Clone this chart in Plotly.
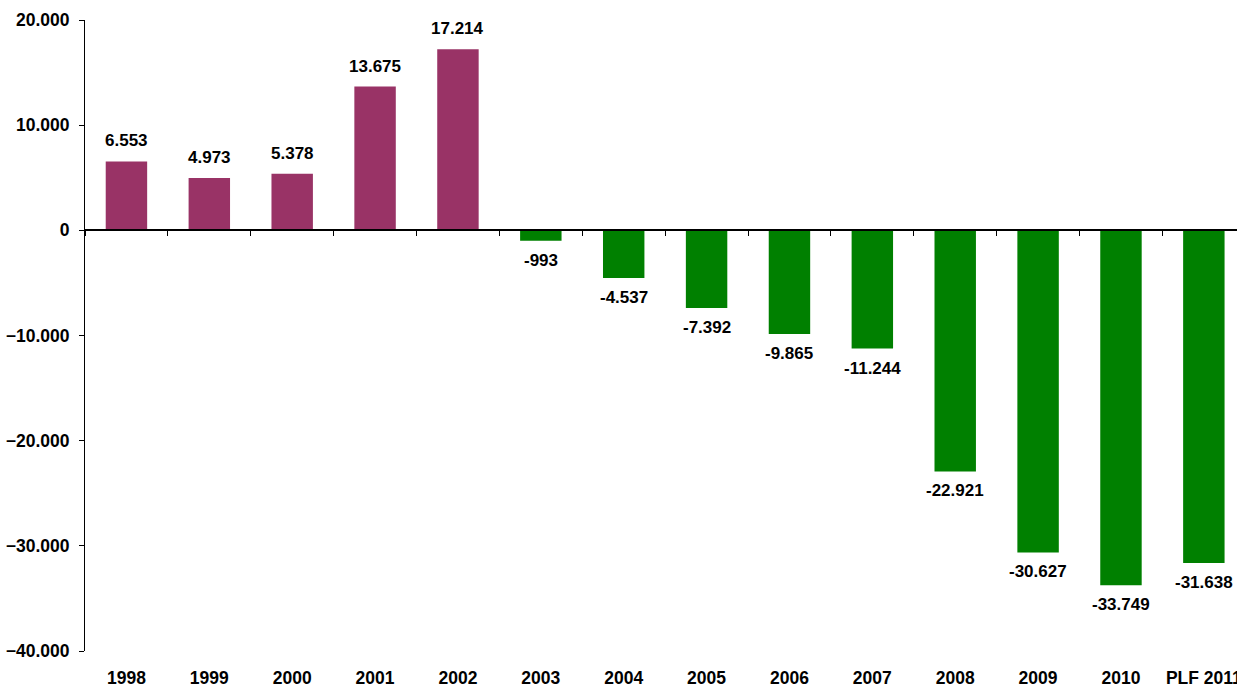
import plotly.graph_objects as go

categories = ["1998", "1999", "2000", "2001", "2002", "2003", "2004", "2005",
              "2006", "2007", "2008", "2009", "2010", "PLF 2011"]
values = [6553, 4973, 5378, 13675, 17214, -993, -4537, -7392, -9865, -11244,
          -22921, -30627, -33749, -31638]
y_ticks = [-40000, -30000, -20000, -10000, 0, 10000, 20000]

POS_COLOR = "#993366"
NEG_COLOR = "#008000"
FONT = "Liberation Sans, Arial, sans-serif"

colors = [POS_COLOR if v >= 0 else NEG_COLOR for v in values]

fig = go.Figure()
fig.add_trace(go.Bar(x=categories, y=values, marker=dict(color=colors, line=dict(width=0)),
                     width=0.5, showlegend=False, hoverinfo="skip"))

annotations = []
for i, v in enumerate(values):
    txt = f"{v:,}".replace(",", ".")
    annotations.append(dict(
        x=i, y=v, xref="x", yref="y", text=txt, showarrow=False,
        yanchor="bottom" if v >= 0 else "top",
        yshift=9 if v >= 0 else -8,
        font=dict(family=FONT, size=17, color="black", weight="bold")))

n = len(categories)
fig.update_layout(
    width=1237, height=685,
    margin=dict(l=85, r=0, t=20, b=34, autoexpand=False),
    plot_bgcolor="white", paper_bgcolor="white",
    separators=",.",
    annotations=annotations,
    hovermode=False,
    xaxis=dict(type="category", range=[-0.5, 13.4], showline=False, ticks="",
               showgrid=False, zeroline=False, automargin=False,
               tickfont=dict(family=FONT, size=17.5, color="black", weight="bold"),
               ticklabelstandoff=14),
    xaxis2=dict(type="linear", overlaying="x", anchor="free", position=2/3,
                range=[-0.5, 13.4], showline=True, linecolor="black", linewidth=1.5,
                ticks="outside", ticklen=5, tickcolor="black", tickwidth=1,
                tickvals=[i - 0.5 for i in range(n + 1)], showticklabels=False,
                showgrid=False, zeroline=False, automargin=False),
    yaxis=dict(range=[-40000, 20000], tickvals=y_ticks, tickformat=",d",
               showline=True, linecolor="black", linewidth=1,
               ticks="outside", ticklen=5, tickcolor="black",
               showgrid=False, zeroline=False, automargin=False,
               tickfont=dict(family=FONT, size=17.5, color="black", weight="bold"),
               ticklabelstandoff=6),
)
fig.add_trace(go.Scatter(x=[0], y=[0], xaxis="x2", yaxis="y", mode="markers",
                         marker=dict(opacity=0), showlegend=False, hoverinfo="skip"))

fig.write_html("out.html", config={"displayModeBar": False},
               post_script="document.body.style.margin='0';document.body.style.overflow='hidden';")
